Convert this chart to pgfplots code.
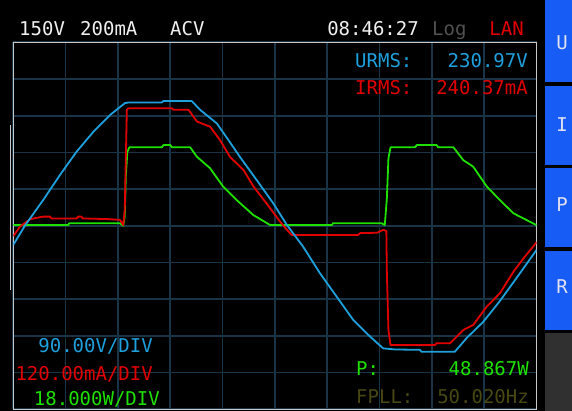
\documentclass[border=0pt]{standalone}
\usepackage{pgfplots}
\pgfplotsset{compat=1.18}
\usepackage{fontspec}
\setmainfont{DejaVu Sans Mono}
\definecolor{gridc}{RGB}{24,52,70}
\definecolor{ublue}{RGB}{30,160,220}
\definecolor{ired}{RGB}{225,0,0}
\definecolor{pgreen}{RGB}{30,225,0}
\definecolor{olive}{RGB}{72,72,18}
\definecolor{panelblue}{RGB}{22,92,245}
\definecolor{panelgrey}{RGB}{48,48,48}
\definecolor{framec}{RGB}{200,200,200}
\begin{document}
\begin{tikzpicture}
\useasboundingbox (0pt,0pt) rectangle (572pt,411pt);
\fill[black] (0pt,0pt) rectangle (572pt,411pt);
% right button panel
\fill[panelblue] (545pt,329pt) rectangle (572pt,411pt);
\fill[panelblue] (545pt,246pt) rectangle (572pt,325pt);
\fill[panelblue] (545pt,164pt) rectangle (572pt,243pt);
\fill[panelblue] (545pt,81pt) rectangle (572pt,160pt);
\fill[panelgrey] (545pt,0pt) rectangle (572pt,78pt);
\draw[gray!45, line width=1pt] (10pt,121pt) -- (10pt,286pt);
\begin{axis}[
  at={(13.3pt,1.7pt)}, anchor=south west,
  width=523.2pt, height=367pt, scale only axis,
  xmin=0, xmax=10, ymin=-5, ymax=5,
  xtick={0,...,10}, ytick={-5,...,5},
  xticklabels={}, yticklabels={},
  major tick length=0pt,
  grid=major,
  major grid style={color=gridc, line width=1.7pt},
  axis line style={draw=framec, line width=1.3pt},
  axis background/.style={fill=black},
  clip=true,
]
\addplot[pgreen, line width=1.8pt, line join=round, sharp plot] coordinates {
(0.00,0.02) (1.05,0.02) (1.07,0.07) (2.04,0.07) (2.10,0.00) (2.13,0.25)
(2.15,1.34) (2.18,2.02) (2.22,2.14) (2.84,2.14) (2.87,2.20) (3.00,2.20)
(3.03,2.14) (3.38,2.14) (3.51,1.88) (3.76,1.57) (4.01,1.07) (4.27,0.70)
(4.59,0.29) (4.91,0.02) (6.09,0.02) (6.11,0.07) (7.04,0.07) (7.10,0.02)
(7.14,0.75) (7.17,1.84) (7.21,2.14) (7.68,2.14) (7.71,2.20) (8.09,2.20)
(8.12,2.14) (8.41,2.14) (8.60,1.79) (8.79,1.61) (9.05,1.07) (9.30,0.70)
(9.56,0.34) (9.75,0.20) (10.00,0.02)
};
\addplot[ired, line width=1.8pt, line join=round, sharp plot] coordinates {
(0.00,-0.28) (0.13,-0.02) (0.32,0.18) (0.57,0.25) (0.70,0.25) (0.73,0.20)
(1.21,0.20) (1.24,0.25) (1.30,0.25) (1.33,0.20) (1.85,0.18) (2.04,0.16)
(2.10,0.02) (2.13,0.43) (2.17,3.16) (2.20,3.20) (3.03,3.20) (3.06,3.16)
(3.35,3.16) (3.51,2.84) (3.76,2.70) (3.95,2.34) (4.14,1.88) (4.40,1.52)
(4.59,1.07) (4.84,0.61) (5.10,0.11) (5.23,-0.11) (5.32,-0.25) (6.59,-0.25)
(6.63,-0.20) (6.95,-0.19) (7.07,-0.11) (7.13,-0.14) (7.14,-1.29) (7.17,-2.84)
(7.21,-3.25) (8.06,-3.25) (8.09,-3.20) (8.35,-3.20) (8.60,-2.84) (8.79,-2.70)
(9.05,-2.20) (9.30,-1.84) (9.56,-1.25) (9.75,-0.89) (10.00,-0.45)
};
\addplot[ublue, line width=1.8pt, line join=round, sharp plot] coordinates {
(0.00,-0.52) (0.22,0.00) (0.57,0.70) (0.89,1.38) (1.21,2.02) (1.53,2.56)
(1.85,3.02) (2.13,3.34) (2.20,3.36) (2.84,3.36) (2.87,3.40) (3.41,3.40)
(3.57,3.16) (3.89,2.79) (4.11,2.34) (4.33,1.88) (4.65,1.25) (4.97,0.61)
(5.23,0.02) (5.54,-0.57) (5.86,-1.29) (6.18,-1.93) (6.50,-2.57) (6.82,-3.02)
(7.07,-3.34) (7.30,-3.37) (7.77,-3.38) (7.80,-3.43) (8.44,-3.43) (8.67,-3.05)
(8.98,-2.62) (9.30,-2.05) (9.62,-1.42) (10.00,-0.66)
};
\end{axis}
% header
\begin{scope}[every node/.style={inner sep=0pt, font=\fontsize{19}{19}\selectfont}]
\node[anchor=base west, text={rgb,255:red,240;green,240;blue,240}] at (19pt,375pt) {150V};
\node[anchor=base west, text={rgb,255:red,240;green,240;blue,240}] at (80pt,375pt) {200mA};
\node[anchor=base west, text={rgb,255:red,240;green,240;blue,240}] at (170pt,375pt) {ACV};
\node[anchor=base east, text={rgb,255:red,240;green,240;blue,240}] at (419pt,375pt) {08:46:27};
\node[anchor=base west, text={rgb,255:red,80;green,80;blue,80}] at (432pt,375pt) {Log};
\node[anchor=base east, text=ired] at (524pt,375pt) {LAN};
% readings
\node[anchor=base west, text=ublue] at (355pt,343pt) {URMS:};
\node[anchor=base east, text=ublue] at (528pt,343pt) {230.97V};
\node[anchor=base west, text=ired] at (355pt,316pt) {IRMS:};
\node[anchor=base east, text=ired] at (528pt,316pt) {240.37mA};
% scales
\node[anchor=base east, text=ublue] at (153pt,58pt) {90.00V/DIV};
\node[anchor=base east, text=ired] at (153pt,30pt) {120.00mA/DIV};
\node[anchor=base east, text=pgreen] at (160pt,5pt) {18.000W/DIV};
\node[anchor=base west, text=pgreen] at (356pt,35pt) {P:};
\node[anchor=base east, text=pgreen] at (529pt,35pt) {48.867W};
\node[anchor=base west, text=olive] at (356pt,7pt) {FPLL:};
\node[anchor=base east, text=olive] at (529pt,7pt) {50.020Hz};
% buttons
\node[text={rgb,255:red,225;green,225;blue,240}] at (562pt,368pt) {U};
\node[text={rgb,255:red,225;green,225;blue,240}] at (562pt,286pt) {I};
\node[text={rgb,255:red,225;green,225;blue,240}] at (562pt,206pt) {P};
\node[text={rgb,255:red,225;green,225;blue,240}] at (562pt,124pt) {R};
\end{scope}
\end{tikzpicture}
\end{document}
